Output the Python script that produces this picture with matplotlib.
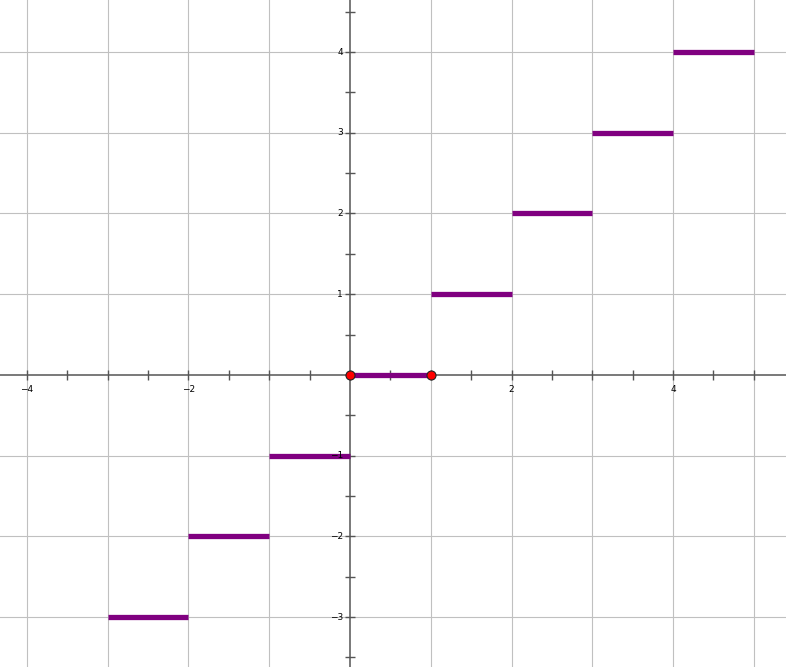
import matplotlib
matplotlib.use("Agg")
import matplotlib.pyplot as plt
from matplotlib.ticker import MultipleLocator, NullFormatter

# step function floor(x) on [-3, 5)
seg_start = [-3, -2, -1, 0, 1, 2, 3, 4]
seg_end = [-2, -1, 0, 1, 2, 3, 4, 5]
seg_y = [-3, -2, -1, 0, 1, 2, 3, 4]
dot_x = [0, 1]
dot_y = [0, 0]
x_labels = [-4, -2, 2, 4]
y_labels = [-3, -2, -1, 1, 2, 3, 4]
grid_x = [-4, -3, -2, -1, 1, 2, 3, 4, 5]
grid_y = [-3, -2, -1, 1, 2, 3, 4]

fig = plt.figure(figsize=(7.86, 6.67), dpi=100)
ax = fig.add_axes([0, 0, 1, 1])
ax.set_xlim(-4.334, 5.399)
ax.set_ylim(-3.619, 4.645)

for gx in grid_x:
    ax.axvline(gx, color="#c0c0c0", lw=0.8, zorder=1)
for gy in grid_y:
    ax.axhline(gy, color="#c0c0c0", lw=0.8, zorder=1)

# axes through the origin
for s in ("top", "right"):
    ax.spines[s].set_visible(False)
ax.spines["left"].set_position(("data", 0))
ax.spines["bottom"].set_position(("data", 0))
for s in ("left", "bottom"):
    ax.spines[s].set_color("#555555")
    ax.spines[s].set_linewidth(1.1)
    ax.spines[s].set_zorder(2)
ax.xaxis.set_major_locator(MultipleLocator(0.5))
ax.yaxis.set_major_locator(MultipleLocator(0.5))
ax.xaxis.set_major_formatter(NullFormatter())
ax.yaxis.set_major_formatter(NullFormatter())
ax.tick_params(direction="inout", length=7.5, width=1.0, color="#555555")

for v in x_labels:
    ax.annotate(str(v).replace("-", "\u2212"), (v, 0), xytext=(0, -10.5),
                textcoords="offset points", ha="center", va="center",
                fontsize=6.5, color="black", zorder=5)
for v in y_labels:
    ax.annotate(str(v).replace("-", "\u2212"), (0, v), xytext=(-5, 0),
                textcoords="offset points", ha="right", va="center",
                fontsize=6.5, color="black", zorder=5)

ax.hlines(seg_y, seg_start, seg_end, colors="#800080", lw=3.8,
          capstyle="butt", zorder=3)
ax.plot(dot_x, dot_y, "o", color="#ff0000", mec="#222222", mew=0.8,
        ms=6.5, zorder=4)

fig.savefig("out.png", dpi=100)
